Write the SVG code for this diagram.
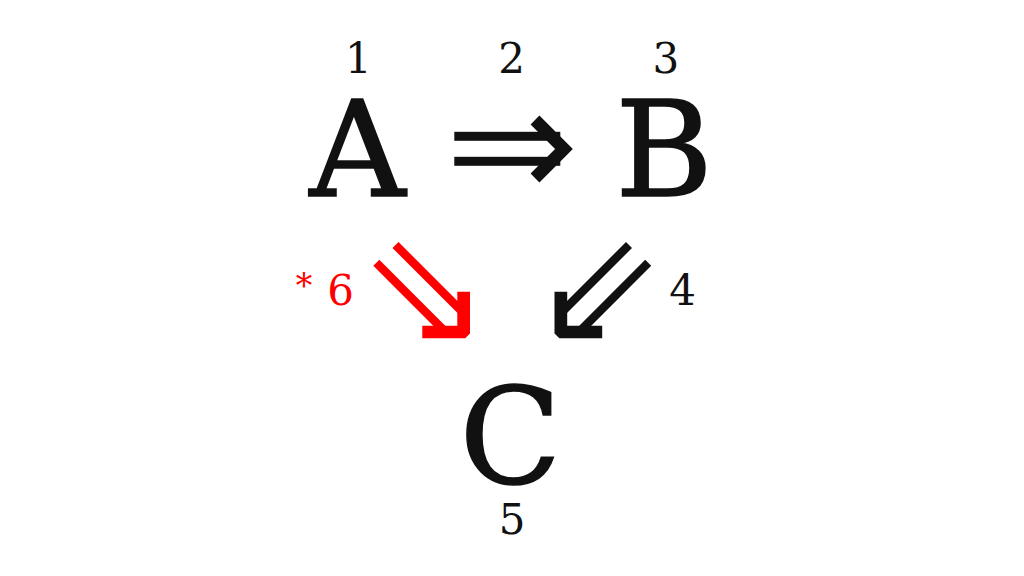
<svg xmlns="http://www.w3.org/2000/svg" width="1024" height="576" viewBox="0 0 1024 576">
<style>
.big{font-family:"DejaVu Serif","Liberation Serif",serif;font-size:133px;fill:#111;stroke:#111;stroke-width:1.6;text-anchor:middle}
.num{font-family:"DejaVu Serif","Liberation Serif",serif;font-size:42px;fill:#111;text-anchor:middle}
.red{fill:#ff0000}
.bar{fill:none;stroke-width:8.5;stroke-linecap:butt}
.blk{stroke:#111}
.rds{stroke:#ff0000}
</style>
<rect width="1024" height="576" fill="#ffffff"/>
<g id="node-A"><text class="big" x="357.5" y="196">A</text><text class="num" x="358.3" y="72.5">1</text></g>
<g id="node-B"><text class="big" x="664" y="196">B</text><text class="num" x="665.8" y="72.5">3</text></g>
<g id="node-C"><text class="big" x="510.5" y="483">C</text><text class="num" x="512.2" y="534">5</text></g>
<g id="connectors">
<g id="edge-A-B">
<rect x="454.3" y="131.8" width="106" height="9" fill="#111"/>
<rect x="454.3" y="156.8" width="106" height="9" fill="#111"/>
<polyline points="535,120 564,149 535,178" fill="none" stroke="#111" stroke-width="12.5" stroke-linejoin="miter"/>
<text class="num" x="511.7" y="72.5">2</text>
</g>
<g id="edge-A-C">
<line class="bar rds" x1="395.5" y1="245" x2="462" y2="311.5"/>
<line class="bar rds" x1="376.3" y1="262.8" x2="443.5" y2="330"/>
<polygon class="red" points="457.3,291.7 470,291.7 470,333.5 465.2,338.3 422.3,338.3 422.3,325.7 457.3,325.7"/>
<text class="num red" x="304" y="297" style="font-size:33px">*</text>
<text class="num red" x="340.5" y="305">6</text>
</g>
<g id="edge-B-C">
<line class="bar blk" x1="629" y1="245" x2="562.5" y2="311.5"/>
<line class="bar blk" x1="648.2" y1="262.8" x2="581" y2="330"/>
<polygon fill="#111" points="567.2,291.7 554.5,291.7 554.5,333.5 559.3,338.3 602.2,338.3 602.2,325.7 567.2,325.7"/>
<text class="num" x="682.5" y="305">4</text>
</g>
</g>
</svg>
